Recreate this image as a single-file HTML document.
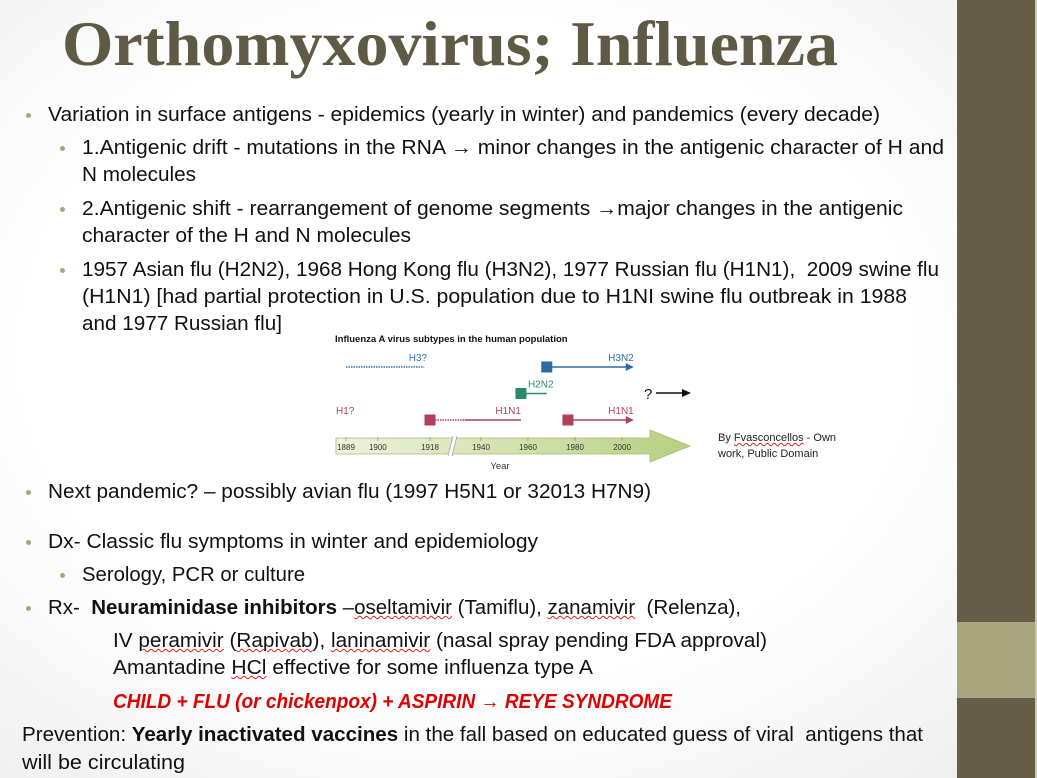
<!DOCTYPE html>
<html><head><meta charset="utf-8"><style>
html,body{margin:0;padding:0}
body{width:1037px;height:778px;position:relative;overflow:hidden;background:radial-gradient(ellipse at 45% 45%,#ffffff 55%,#ececec 100%);font-family:"Liberation Sans",sans-serif;}
.ln{position:absolute;white-space:nowrap;font-size:20px;line-height:24px;color:#111;transform-origin:0 0}
.bul{position:absolute;width:5px;height:5px;border-radius:50%;background:#a9a47e}
.sq{text-decoration:underline wavy #d22;text-decoration-thickness:1px}
</style></head><body>
<div style="position:absolute;left:957px;top:0;width:78px;height:778px;background:#655d48"></div>
<div style="position:absolute;left:957px;top:622px;width:78px;height:76px;background:#a8a47d"></div>
<div style="position:absolute;left:1035px;top:0;width:2px;height:778px;background:#c9c6bb"></div>

<div class="ln fit" data-w="776" style="left:62px;top:4px;font-family:'Liberation Serif',serif;font-weight:bold;font-size:64px;line-height:80px;color:#5f5a45">Orthomyxovirus; Influenza</div>

<div class="bul" style="left:26px;top:113px"></div>
<div class="ln fit" data-w="832" style="left:48px;top:103px">Variation in surface antigens - epidemics (yearly in winter) and pandemics (every decade)</div>
<div class="bul" style="left:60px;top:146px"></div>
<div class="ln fit" data-w="862" style="left:82px;top:136px">1.Antigenic drift - mutations in the RNA → minor changes in the antigenic character of H and</div>
<div class="ln fit" data-w="114" style="left:82px;top:163px">N molecules</div>
<div class="bul" style="left:60px;top:207px"></div>
<div class="ln fit" data-w="821" style="left:82px;top:197px">2.Antigenic shift - rearrangement of genome segments →major changes in the antigenic</div>
<div class="ln fit" data-w="329" style="left:82px;top:224px">character of the H and N molecules</div>
<div class="bul" style="left:60px;top:268px"></div>
<div class="ln fit" data-w="857" style="left:82px;top:258px">1957 Asian flu (H2N2), 1968 Hong Kong flu (H3N2), 1977 Russian flu (H1N1),&nbsp; 2009 swine flu</div>
<div class="ln fit" data-w="825" style="left:82px;top:285px">(H1N1) [had partial protection in U.S. population due to H1NI swine flu outbreak in 1988</div>
<div class="ln fit" data-w="200" style="left:82px;top:312px">and 1977 Russian flu]</div>

<svg style="position:absolute;left:325px;top:325px" width="380" height="150" viewBox="325 325 380 150">
<text x="335" y="342" font-family="Liberation Sans" font-weight="bold" font-size="9.5" fill="#111">Influenza A virus subtypes in the human population</text>
<defs><linearGradient id="ag" x1="0" x2="1"><stop offset="0" stop-color="#eef3dc"/><stop offset="1" stop-color="#b7d080"/></linearGradient></defs>
<path d="M336 438 H650 V430 L690 446 L650 462 V454 H336 Z" fill="url(#ag)" stroke="#a5bd76" stroke-width="0.8"/>
<line x1="450" y1="456" x2="455" y2="436" stroke="#fff" stroke-width="4"/>
<line x1="448" y1="456" x2="453" y2="436" stroke="#999" stroke-width="0.7"/>
<line x1="452" y1="456" x2="457" y2="436" stroke="#999" stroke-width="0.7"/>
<g id="ticks"></g>
<text x="500" y="469" font-family="Liberation Sans" font-size="9.5" fill="#333" text-anchor="middle">Year</text>
<g id="series"></g>
<text x="644" y="399" font-family="Liberation Sans" font-size="15" fill="#111">?</text>
<line x1="656" y1="393" x2="683" y2="393" stroke="#111" stroke-width="1.6"/>
<path d="M682 389 L691 393 L682 397 Z" fill="#111"/>
</svg>
<div class="ln" style="left:718px;top:430px;font-size:11px;line-height:16px;color:#222">By <span class="sq">Fvasconcellos</span> - Own<br>work, Public Domain</div>

<div class="bul" style="left:26px;top:490px"></div>
<div class="ln fit" data-w="603" style="left:48px;top:480px">Next pandemic? – possibly avian flu (1997 H5N1 or 32013 H7N9)</div>
<div class="bul" style="left:26px;top:540px"></div>
<div class="ln fit" data-w="490" style="left:48px;top:530px">Dx- Classic flu symptoms in winter and epidemiology</div>
<div class="bul" style="left:60px;top:573px"></div>
<div class="ln fit" data-w="223" style="left:82px;top:563px">Serology, PCR or culture</div>
<div class="bul" style="left:26px;top:606px"></div>
<div class="ln fit" data-w="693" style="left:48px;top:596px">Rx-&nbsp; <b>Neuraminidase inhibitors</b> –<span class="sq">oseltamivir</span> (Tamiflu), <span class="sq">zanamivir</span>&nbsp; (Relenza),</div>
<div class="ln fit" data-w="654" style="left:113px;top:629px">IV <span class="sq">peramivir</span> (<span class="sq">Rapivab</span>), <span class="sq">laninamivir</span> (nasal spray pending FDA approval)</div>
<div class="ln fit" data-w="480" style="left:113px;top:656px">Amantadine <span class="sq">HCl</span> effective for some influenza type A</div>
<div class="ln fit" data-w="559" style="left:113px;top:690px;color:#e00000;font-weight:bold;font-style:italic">CHILD + FLU (or chickenpox) + ASPIRIN → REYE SYNDROME</div>
<div class="ln fit" data-w="901" style="left:22px;top:723px">Prevention: <b>Yearly inactivated vaccines</b> in the fall based on educated guess of viral&nbsp; antigens that</div>
<div class="ln fit" data-w="163" style="left:22px;top:751px">will be circulating</div>

<script>
const tickYears=[1889,1900,1918,1940,1960,1980,2000];
const seriesNames=["H3?","H3N2","H2N2","H1N1","H1N1"];
const seriesStart=[1889,1968,1957,1918,1977];
const seriesEnd=[1916,2005,1968,1957,2005];
const seriesDottedUntil=[1916,1968,1957,1933,1977];
const seriesRow=[0,0,1,2,2];
const seriesColor=["#3b6fb5","#2e6aa6","#2a8a66","#b0405a","#b0405a"];
const seriesMarker=[false,true,true,true,true];
const seriesArrow=[false,true,false,false,true];
function xs(y){ if(y<=1918) return 346+(y-1889)*(430-346)/29; return 481+(y-1940)*(622-481)/60; }
function ys(r){ return 367+r*26.5; }
const NS="http://www.w3.org/2000/svg";
function mk(t,a,p){const e=document.createElementNS(NS,t);for(const k in a)e.setAttribute(k,a[k]);p.appendChild(e);return e;}
const tg=document.getElementById('ticks');
tickYears.forEach(y=>{
  const l=mk('line',{x1:xs(y),x2:xs(y),y1:437,y2:441,stroke:'#888','stroke-width':0.7},tg);
  
  
  const t=mk('text',{x:xs(y),y:450,'font-family':'Liberation Sans','font-size':8,fill:'#333','text-anchor':'middle'},tg);
  t.textContent=y;
  
  
});
const sg=document.getElementById('series');
seriesNames.forEach((n,i)=>{
  const y=ys(seriesRow[i]),x0=xs(seriesStart[i]),x1=xs(seriesEnd[i]),xd=xs(seriesDottedUntil[i]),c=seriesColor[i];
  if(xd>x0){const d=mk('line',{x1:x0,x2:xd,y1:y,y2:y,stroke:c,'stroke-width':1.6,'stroke-dasharray':'1.5,1'},sg);
    
    }
  if(x1>xd){const s=mk('line',{x1:xd,x2:seriesArrow[i]?x1-7:x1,y1:y,y2:y,stroke:c,'stroke-width':1.6},sg);
    
    }
  if(seriesArrow[i]){const a=mk('path',{d:`M${x1-8} ${y-4} L${x1} ${y} L${x1-8} ${y+4} Z`,fill:c},sg);
    
    }
  if(seriesMarker[i]){const m=mk('rect',{x:x0-5,y:y-5,width:10,height:10,fill:c,stroke:c},sg);
    
    }
  const lx=i==0?xs(1917):x1;
  const t=mk('text',{x:lx,y:y-6,'font-family':'Liberation Sans','font-size':10,fill:c,'text-anchor':'end'},sg);
  t.textContent=n;
  if(i==2){t.setAttribute('text-anchor','start');t.setAttribute('x',x0+7);}
  
  
});
const h1=mk('text',{x:336,y:414,'font-family':'Liberation Sans','font-size':10,fill:'#b0405a'},sg);
h1.textContent='H1?';


document.querySelectorAll('.fit').forEach(el=>{const w=+el.dataset.w;const r=el.getBoundingClientRect().width;if(r>0)el.style.transform='scaleX('+(w/r)+')';});
</script>
</body></html>
